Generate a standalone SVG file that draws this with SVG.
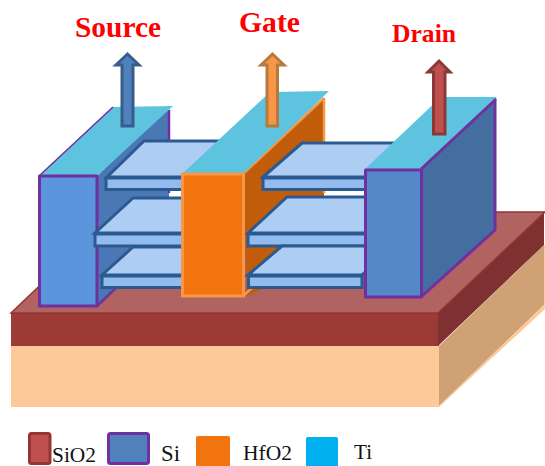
<svg xmlns="http://www.w3.org/2000/svg" width="545" height="466" viewBox="0 0 545 466">
<style>
.lbl{font-family:"Liberation Serif","Times New Roman",serif;font-weight:bold;fill:#ff0000}
.leg{font-family:"Liberation Serif","Times New Roman",serif;fill:#111111}
.st{fill:#aecdf3;stroke:#2a5a8f;stroke-width:3;stroke-linejoin:miter}
.sf{fill:#92bcee;stroke:#2a5a8f;stroke-width:3}
.ti{fill:#5dc3de}
.pu{stroke:#7030a0;stroke-width:3;stroke-linejoin:round}
</style>
<rect width="545" height="466" fill="#ffffff"/>
<g id="substrate">
<rect x="11" y="346" width="428" height="61" fill="#fec998"/>
<polygon points="439,346 544,245 544,305 439,406" fill="#d1a176"/>
<polygon points="439,406 544,305 545,309 439,407" fill="#fec998"/>
<polygon points="544,245 545,245 545,309 544,305" fill="#fec998"/>
</g>
<g id="sio2">
<rect x="11" y="313" width="428" height="33" fill="#9c3a36"/>
<polygon points="438,313 544,212 544,245 438,346" fill="#7f3030"/>
<polygon points="11,313 117,212 545,212 438,313" fill="#b06360" stroke="#943634" stroke-width="1.5"/>
</g>
<g id="source">
<polygon points="97,176 169,107 169,192 169,260 118,286 97,306" fill="#4a78b4"/>
<line x1="169" y1="110" x2="169" y2="193" stroke="#7030a0" stroke-width="2.500"/>
<polygon points="39,176 113,107 173,106 97,176" class="ti"/>
<line x1="39" y1="176" x2="113" y2="107" stroke="#7030a0" stroke-width="1.500"/>
<rect x="39.500" y="176" width="57.500" height="130" fill="#5b96dc" class="pu"/>
<line x1="97" y1="306" x2="118" y2="286" stroke="#7030a0" stroke-width="2.500"/>
</g>
<g id="sheets-left">
<polygon points="107,177 144,141 230,141 182,177" class="st"/>
<rect x="106" y="178" width="80" height="11.500" class="sf"/>
<polygon points="95,233 133,198 230,198 190,233" class="st"/>
<rect x="95" y="234" width="91" height="12" class="sf"/>
<polygon points="102,275 133,247 230,247 190,275" class="st"/>
<rect x="102" y="276" width="84" height="11.500" class="sf"/>
</g>
<g id="gate">
<polygon points="243,174 324,98 324,193 324,260 247,296" fill="#c05c0a"/>
<line x1="324" y1="98" x2="324" y2="193" stroke="#f79646" stroke-width="2.500"/>
<line x1="243" y1="174" x2="324" y2="98" stroke="#f79646" stroke-width="2.500"/>
<polygon points="182,174 270,92 329,91 243,174" class="ti"/>
<rect x="182.500" y="174" width="61" height="122" fill="#f2740e" stroke="#f79646" stroke-width="3"/>
<line x1="243" y1="296" x2="252" y2="288" stroke="#f79646" stroke-width="2.500"/>
</g>
<g id="sheets-right">
<polygon points="263,177 302,143 395,143 365,177" class="st"/>
<rect x="263" y="178" width="110" height="11.500" class="sf"/>
<polygon points="248,233 287,197 395,197 365,233" class="st"/>
<rect x="248" y="234" width="125" height="12" class="sf"/>
<polygon points="248,275 282,246 395,246 362,275" class="st"/>
<rect x="248.500" y="276" width="113.500" height="11.500" class="sf"/>
</g>
<g id="drain">
<polygon points="421,169 495,100 495,230 421,297" fill="#436e9f" class="pu"/>
<polygon points="365,169 441,97 497,97 421,169" class="ti"/>
<rect x="365.500" y="170" width="56" height="127" fill="#5588c8" class="pu"/>
<line x1="421" y1="169" x2="496" y2="99" stroke="#7030a0" stroke-width="2.500"/>
</g>
<g id="arrows">
<polygon points="127.500,54 139,65 133,65 133,126 122,126 122,65 116,65" fill="#4f81bd" stroke="#385d8a" stroke-width="3"/>
<polygon points="272.500,54 284,65 277.500,65 277.500,126 267,126 267,65 261,65" fill="#f79646" stroke="#b6793e" stroke-width="3"/>
<polygon points="439,61 450,72 445,72 445,134 433.500,134 433.500,72 428,72" fill="#c0504d" stroke="#8c3836" stroke-width="3"/>
</g>
<g id="labels">
<text x="75" y="37" class="lbl" font-size="30" textLength="86" lengthAdjust="spacingAndGlyphs">Source</text>
<text x="239" y="32" class="lbl" font-size="30" textLength="61" lengthAdjust="spacingAndGlyphs">Gate</text>
<text x="392" y="42" class="lbl" font-size="26" textLength="64" lengthAdjust="spacingAndGlyphs">Drain</text>
</g>
<g id="legend">
<rect x="29.500" y="433.500" width="20.500" height="30" rx="2" fill="#c0504d" stroke="#943634" stroke-width="3"/>
<text x="52" y="462" class="leg" font-size="22" textLength="44" lengthAdjust="spacingAndGlyphs">SiO2</text>
<rect x="108.500" y="433.500" width="40" height="30" rx="2" fill="#4f81bd" stroke="#7030a0" stroke-width="3"/>
<text x="161" y="461" class="leg" font-size="24" textLength="19" lengthAdjust="spacingAndGlyphs">Si</text>
<rect x="196" y="436" width="34" height="32" rx="2" fill="#f2740e"/>
<text x="243" y="460" class="leg" font-size="22" textLength="49" lengthAdjust="spacingAndGlyphs">HfO2</text>
<rect x="306" y="437" width="32" height="31" rx="2" fill="#00b0f0"/>
<text x="354" y="459" class="leg" font-size="22" textLength="18" lengthAdjust="spacingAndGlyphs">Ti</text>
</g>
</svg>
